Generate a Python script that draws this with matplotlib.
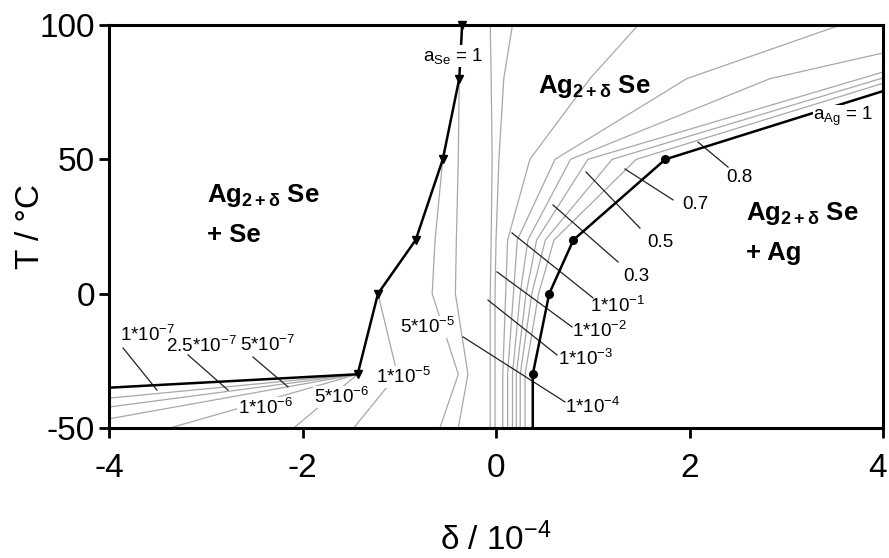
import matplotlib
matplotlib.use("Agg")
import matplotlib.pyplot as plt
import matplotlib.transforms as mtransforms

plt.rcParams['font.family'] = ['Liberation Sans', 'DejaVu Sans']
plt.rcParams['mathtext.fontset'] = 'custom'
plt.rcParams['mathtext.rm'] = 'Liberation Sans'
plt.rcParams['mathtext.it'] = 'Liberation Sans:italic'
plt.rcParams['mathtext.bf'] = 'Liberation Sans:bold'

# Phase boundaries (delta in 1e-4, temperature in degC)
se_delta = [-4.0, -1.43, -1.22, -0.83, -0.55, -0.38, -0.35]
se_temp = [-35, -30, 0, 20, 50, 80, 100]
ag_delta = [0.38, 0.38, 0.55, 0.80, 1.75, 4.0]
ag_temp = [-50, -30, 0, 20, 50, 75.4]

# Iso-activity lines on the Se-rich side
iso_left = {
    "1e-7": ([-1.43, -4.0], [-30, -38.9]),
    "2.5e-7": ([-1.43, -4.0], [-30, -42.2]),
    "5e-7": ([-1.43, -4.0], [-30, -46.6]),
    "1e-6": ([-1.43, -3.37], [-30, -50]),
    "5e-6": ([-1.43, -2.09], [-30, -50]),
    "1e-5": ([-1.22, -1.02, -1.47], [0, -30, -50]),
    "5e-5": ([-0.55, -0.63, -0.66, -0.39, -0.58], [50, 20, 0, -30, -50]),
    "1e-4": ([-0.38, -0.39, -0.41, -0.42, -0.29, -0.39], [80, 50, 20, 0, -30, -50]),
}

# Iso-activity lines on the Ag-rich side
t_grid = [-50, -30, 0, 20, 50, 80, 100]
iso_right = [
    ([-0.06, -0.06, -0.06, -0.05, -0.04, -0.05, -0.06], t_grid),
    ([-0.01, -0.01, -0.01, 0.00, 0.03, 0.08, 0.17], t_grid),
    ([0.07, 0.07, 0.10, 0.12, 0.35, 0.97, 1.47], t_grid),
    ([0.12, 0.12, 0.18, 0.22, 0.61, 1.97, 3.56], t_grid),
    ([0.17, 0.17, 0.25, 0.33, 0.77, 2.83, 4.0], [-50, -30, 0, 20, 50, 80, 89.6]),
    ([0.21, 0.21, 0.31, 0.42, 0.95, 4.0], [-50, -30, 0, 20, 50, 82.5]),
    ([0.25, 0.25, 0.37, 0.51, 1.20, 4.0], [-50, -30, 0, 20, 50, 80.3]),
    ([0.30, 0.30, 0.44, 0.60, 1.45, 4.0], [-50, -30, 0, 20, 50, 78.3]),
]

# Activity labels: text, label position, leader line (start, end) or None
act_labels = [
    ("1*10$^{-7}$", (-3.60, -15.5), ((-3.855, -20.2), (-3.504, -35.9))),
    ("2.5*10$^{-7}$", (-3.05, -19.3), ((-3.183, -22.8), (-2.770, -35.9))),
    ("5*10$^{-7}$", (-2.36, -19.1), ((-2.512, -23.6), (-2.150, -34.7))),
    ("1*10$^{-6}$", (-2.38, -42.6), None),
    ("5*10$^{-6}$", (-1.60, -38.5), None),
    ("1*10$^{-5}$", (-0.96, -31.0), None),
    ("5*10$^{-5}$", (-0.71, -12.4), None),
    ("1*10$^{-4}$", (1.00, -42.2), ((-0.341, -16.1), (0.713, -40.3))),
    ("1*10$^{-3}$", (0.93, -24.3), ((-0.083, -2.4), (0.630, -22.8))),
    ("1*10$^{-2}$", (1.07, -13.9), ((0.010, 8.1), (0.786, -12.4))),
    ("1*10$^{-1}$", (1.26, -4.6), ((0.165, 22.6), (1.003, -1.6))),
    ("0.3", (1.45, 6.2), ((0.589, 33.0), (1.261, 11.8))),
    ("0.5", (1.70, 19.2), ((0.930, 45.3), (1.488, 24.4))),
    ("0.7", (2.06, 33.0), ((1.333, 46.4), (1.829, 34.9))),
    ("0.8", (2.52, 43.1), ((2.088, 56.4), (2.398, 47.1))),
]

x_ticks = [-4, -2, 0, 2, 4]
y_ticks = [-50, 0, 50, 100]

fig = plt.figure(figsize=(8.89, 5.58), dpi=100)
ax = fig.add_axes([0.1226, 0.233, 0.8707, 0.7222])
ax.set_xlim(-4, 4)
ax.set_ylim(-50, 100)

gray = '#a8a8a8'
for xs, ts in iso_left.values():
    ax.plot(xs, ts, color=gray, lw=0.9, zorder=1)
for xs, ts in iso_right:
    ax.plot(xs, ts, color=gray, lw=0.9, zorder=1)

ax.plot(se_delta, se_temp, color='black', lw=1.8, zorder=3)
ax.plot(se_delta[1:], se_temp[1:], ls='none', marker='v', ms=5.5,
        color='black', zorder=4, clip_on=False)
ax.plot(ag_delta, ag_temp, color='black', lw=1.8, zorder=3)
ax.plot(ag_delta[1:5], ag_temp[1:5], ls='none', marker='o', ms=5.5,
        color='black', zorder=4)

for text, (lx, ly), leader in act_labels:
    if leader is not None:
        (x0, y0), (x1, y1) = leader
        ax.plot([x0, x1], [y0, y1], color='#222222', lw=0.9, zorder=2)
        ax.text(lx, ly, text, fontsize=13.5, ha='center', va='center', zorder=5)
    else:
        ax.text(lx, ly, text, fontsize=13.5, ha='center', va='center', zorder=5,
                bbox=dict(fc='white', ec='none', pad=0.5))

ax.text(-0.44, 88.5, "a$_{\\mathrm{Se}}$ = 1", fontsize=13.5, ha='center', va='center',
        zorder=5, bbox=dict(fc='white', ec='none', pad=0.5))
ax.text(3.59, 65.8, "a$_{\\mathrm{Ag}}$ = 1", fontsize=13.5, ha='center', va='center',
        zorder=5, bbox=dict(fc='white', ec='none', pad=0.5))

phase = "Ag$_{\\mathbf{2+δ}}$ Se"
ax.text(1.02, 77.0, phase, fontsize=18.5, fontweight='bold', ha='center', va='center', zorder=5)
ax.text(-2.99, 36.7, phase, fontsize=18.5, fontweight='bold', ha='left', va='center', zorder=5)
ax.text(-2.99, 21.8, "+ Se", fontsize=18.5, fontweight='bold', ha='left', va='center', zorder=5)
ax.text(2.58, 30.0, phase, fontsize=18.5, fontweight='bold', ha='left', va='center', zorder=5)
ax.text(2.58, 15.0, "+ Ag", fontsize=18.5, fontweight='bold', ha='left', va='center', zorder=5)

ax.set_xticks(x_ticks)
ax.set_yticks(y_ticks)
ax.set_xticklabels([str(v) for v in x_ticks])
ax.set_yticklabels([str(v) for v in y_ticks])
ax.tick_params(axis='both', direction='out', length=7, width=2, labelsize=24)
ax.tick_params(axis='x', pad=11)
ax.tick_params(axis='y', pad=3)
for s in ax.spines.values():
    s.set_linewidth(2.2)

# keep the last x tick label inside the canvas
last = ax.get_xticklabels()[-1]
last.set_transform(last.get_transform() +
                   mtransforms.ScaledTranslation(-5 / 100, 0, fig.dpi_scale_trans))

ax.set_xlabel("δ / 10$^{-4}$", fontsize=24)
ax.xaxis.set_label_coords(0.5, -0.235)
ax.set_ylabel("T / °C", fontsize=24)
ax.yaxis.set_label_coords(-0.082, 0.5)

fig.savefig("out.png", dpi=100)
